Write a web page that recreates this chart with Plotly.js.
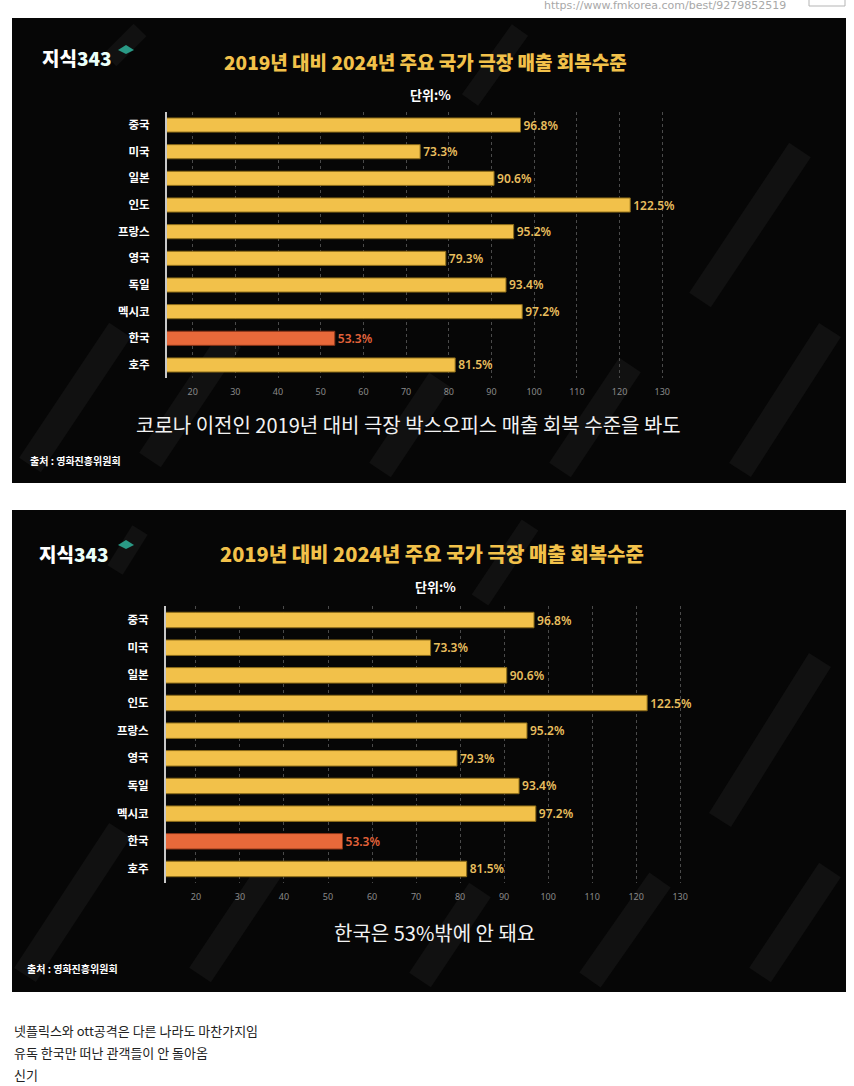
<!DOCTYPE html>
<html><head><meta charset="utf-8">
<script src="https://cdn.plot.ly/plotly-3.0.1.min.js"></script>
<style>html,body{margin:0;padding:0;background:#fff;} #chart{width:854px;height:1086px;}</style>
</head><body><div id="chart"></div>
<script>
// ---- data ----
const countries = ['중국','미국','일본','인도','프랑스','영국','독일','멕시코','한국','호주'];
const recovery = [96.8, 73.3, 90.6, 122.5, 95.2, 79.3, 93.4, 97.2, 53.3, 81.5];
const highlightCountry = '한국';
const tickValues = [20, 30, 40, 50, 60, 70, 80, 90, 100, 110, 120, 130];
const tickLabels = ['20','30','40','50','60','70','80','90','100','110','120','130'];
const chartTitle = '2019년 대비 2024년 주요 국가 극장 매출 회복수준';
const unitLabel = '단위:%';
const captionTop = '코로나 이전인 2019년 대비 극장 박스오피스 매출 회복 수준을 봐도';
const captionBottom = '한국은 53%밖에 안 돼요';
const sourceLabel = '출처 : 영화진흥위원회';
const logoMain = '지식';
const logoNum = '343';
const commentLines = ['넷플릭스와 ott공격은 다른 나라도 마찬가지임', '유독 한국만 떠난 관객들이 안 돌아옴', '신기'];
const pageUrl = 'https://www.fmkorea.com/best/9279852519';

// ---- styling ----
const W = 854, H = 1086;
const px = x => x / W;
const py = y => 1 - y / H;
const YELLOW = '#F2C14A', ORANGE = '#E8693A';
const LBL_Y = '#E8BE5E', LBL_O = '#E2623A';
const KR = 'Noto Sans CJK KR';

const barColors = countries.map(c => c === highlightCountry ? ORANGE : YELLOW);
const lineColors = countries.map(c => c === highlightCountry ? '#8a3518' : '#8a6a18');
const textColors = countries.map(c => c === highlightCountry ? LBL_O : LBL_Y);
const barText = recovery.map(v => v.toFixed(1) + '%');

function barTrace(xa, ya, width) {
  return {
    type: 'bar', orientation: 'h', x: recovery, y: countries,
    xaxis: xa, yaxis: ya, width: width,
    marker: {color: barColors, line: {color: lineColors, width: 1}},
    text: barText, textposition: 'outside', constraintext: 'none',
    textfont: {color: textColors, size: 12, family: 'Noto Sans', weight: 600},
    cliponaxis: false, hoverinfo: 'skip'
  };
}

function xAxis(domain, range, anchor) {
  return {
    domain: domain, range: range, anchor: anchor,
    tickmode: 'array', tickvals: tickValues, ticktext: tickLabels,
    tickfont: {size: 9, color: '#8a8a8a', family: 'Noto Sans'},
    showgrid: true, gridcolor: '#4a4a4a', griddash: 'dot', gridwidth: 1,
    zeroline: false, showline: false, ticks: '', ticklabelstandoff: 7,
    fixedrange: true
  };
}
function yAxis(domain, anchor) {
  return {
    domain: domain, anchor: anchor, type: 'category',
    categoryorder: 'array', categoryarray: countries, range: [9.5, -0.5],
    showline: true, linecolor: '#c8c8c8', linewidth: 2,
    showgrid: false, zeroline: false, ticks: '', ticklabelstandoff: 13,
    tickfont: {size: 11.5, color: '#ffffff', family: KR, weight: 700},
    fixedrange: true
  };
}

function stripe(x0, y0, x1, y1, w) {
  return {type: 'line', xref: 'paper', yref: 'paper', x0: px(x0), y0: py(y0), x1: px(x1), y1: py(y1),
          line: {color: '#111111', width: w || 26}, layer: 'below'};
}

const shapes = [
  {type: 'rect', xref: 'paper', yref: 'paper', x0: px(12), x1: px(846), y0: py(18), y1: py(483),
   fillcolor: '#060606', line: {width: 0}, layer: 'below'},
  {type: 'rect', xref: 'paper', yref: 'paper', x0: px(12), x1: px(846), y0: py(510), y1: py(992),
   fillcolor: '#060606', line: {width: 0}, layer: 'below'},
  // decorative stripes panel 1
  stripe(30, 465, 120, 330), stripe(150, 460, 230, 340), stripe(380, 470, 440, 380),
  stripe(560, 470, 630, 365), stripe(700, 300, 800, 150), stripe(740, 470, 830, 330),
  stripe(110, 60, 140, 30, 18), stripe(470, 100, 520, 30, 20),
  // decorative stripes panel 2
  stripe(25, 975, 120, 830), stripe(200, 975, 270, 870), stripe(420, 980, 480, 890),
  stripe(590, 980, 660, 880), stripe(720, 820, 820, 660), stripe(760, 975, 830, 870),
  stripe(115, 570, 140, 530, 18), stripe(480, 600, 530, 525, 20),
  // url box at top right
  {type: 'rect', xref: 'paper', yref: 'paper', x0: px(809), x1: px(845), y0: py(6), y1: py(-4),
   fillcolor: '#ffffff', line: {color: '#b5b5b5', width: 1}},
  // logo caps
  {type: 'path', xref: 'paper', yref: 'paper',
   path: `M ${px(118)} ${py(50)} L ${px(126)} ${py(45)} L ${px(134)} ${py(50)} L ${px(126)} ${py(54)} Z`,
   fillcolor: '#2a9a86', line: {width: 0}},
  {type: 'path', xref: 'paper', yref: 'paper',
   path: `M ${px(118)} ${py(545)} L ${px(126)} ${py(540)} L ${px(134)} ${py(545)} L ${px(126)} ${py(549)} Z`,
   fillcolor: '#2a9a86', line: {width: 0}}
];

function ann(text, x, y, size, color, opts) {
  return Object.assign({
    text: text, xref: 'paper', yref: 'paper', x: px(x), y: py(y),
    xanchor: 'center', yanchor: 'middle', showarrow: false,
    font: {size: size, color: color, family: KR}
  }, opts || {});
}

const logoText = `${logoMain}<span style="color:#eafff9">${logoNum}</span>`;
const logoFont = {size: 19, color: '#ffffff', family: KR, weight: 900};

const annotations = [
  ann(pageUrl, 665, 6, 11, '#a8a8a8', {font: {size: 11, color: '#a8a8a8', family: 'DejaVu Sans'}}),
  // panel 1
  ann(logoText, 40, 58, 19, '#ffffff', {xanchor: 'left', font: logoFont}),
  ann(chartTitle, 425, 62, 19, YELLOW, {font: {size: 19, color: YELLOW, family: KR, weight: 900}}),
  ann(unitLabel, 430, 95, 13, '#ffffff', {font: {size: 13, color: '#ffffff', family: KR, weight: 700}}),
  ann(captionTop, 408, 425, 20, '#f2f2f2'),
  ann(sourceLabel, 28, 460, 10, '#ffffff', {xanchor: 'left', font: {size: 10, color: '#ffffff', family: KR, weight: 700}}),
  // panel 2
  ann(logoText, 37, 553, 19, '#ffffff', {xanchor: 'left', font: logoFont}),
  ann(chartTitle, 432, 553, 20, YELLOW, {font: {size: 20, color: YELLOW, family: KR, weight: 900}}),
  ann(unitLabel, 435, 586, 13, '#ffffff', {font: {size: 13, color: '#ffffff', family: KR, weight: 700}}),
  ann(captionBottom, 434, 932, 20, '#f2f2f2'),
  ann(sourceLabel, 25, 968, 10, '#ffffff', {xanchor: 'left', font: {size: 10, color: '#ffffff', family: KR, weight: 700}})
];
commentLines.forEach((t, i) => {
  annotations.push(ann(t, 12, 1030 + i * 22, 13, '#222222', {xanchor: 'left'}));
});

const layout = {
  width: W, height: H, margin: {l: 0, r: 0, t: 0, b: 0, pad: 0},
  paper_bgcolor: '#ffffff', plot_bgcolor: 'rgba(0,0,0,0)',
  showlegend: false, bargap: 0.45,
  xaxis: xAxis([px(167), px(690)], [14, 136.5], 'y'),
  yaxis: yAxis([py(378.3), py(111.7)], 'x'),
  xaxis2: xAxis([px(166), px(700)], [13.2, 134.5], 'y2'),
  yaxis2: yAxis([py(882.8), py(606.2)], 'x2'),
  shapes: shapes, annotations: annotations
};

Plotly.newPlot('chart', [barTrace('x', 'y', 0.53), barTrace('x2', 'y2', 0.56)], layout,
  {staticPlot: true, displayModeBar: false});
</script>
</body></html>
